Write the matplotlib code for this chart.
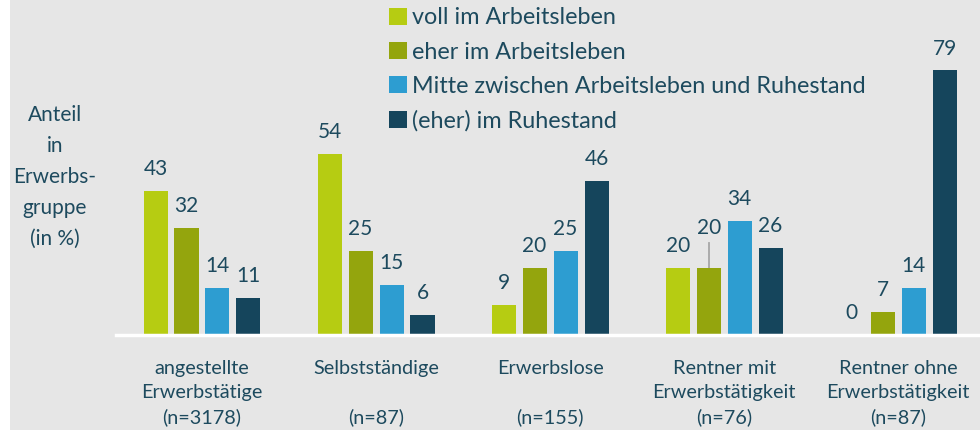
import numpy as np
import matplotlib.pyplot as plt
from matplotlib.patches import Patch

# data
groups = ['angestellte\nErwerbstätige\n(n=3178)', 'Selbstständige\n\n(n=87)',
          'Erwerbslose\n\n(n=155)', 'Rentner mit\nErwerbstätigkeit\n(n=76)',
          'Rentner ohne\nErwerbstätigkeit\n(n=87)']
series = ['voll im Arbeitsleben', 'eher im Arbeitsleben',
          'Mitte zwischen Arbeitsleben und Ruhestand', '(eher) im Ruhestand']
voll = [43, 54, 9, 20, 0]
eher = [32, 25, 20, 20, 7]
mitte = [14, 15, 25, 34, 14]
ruhe = [11, 6, 46, 26, 79]
colors = ['#b6cc12', '#94a50d', '#2d9dd1', '#15455c']
txt = '#1d4a5e'
bg = '#e6e6e6'

plt.rcParams['font.family'] = ['Lato', 'DejaVu Sans']

fig = plt.figure(figsize=(9.8, 4.3), dpi=100)
fig.patch.set_facecolor('white')
# grey panel, leaving thin white strip at left
fig.patches.append(plt.Rectangle((10/980, 0), 1, 1, transform=fig.transFigure,
                                 facecolor=bg, edgecolor='none', zorder=-10))

ax = fig.add_axes([116/980, 95/430, 864/980, 335/430])
ax.set_facecolor('none')

x = np.arange(len(groups))
width = 0.138
step = 0.178
vals = [voll, eher, mitte, ruhe]
for i, v in enumerate(vals):
    pos = x + (i - 1.5) * step
    ax.bar(pos, v, width, color=colors[i], label=series[i], zorder=2)
    for j, (p, h) in enumerate(zip(pos, v)):
        if i == 1 and j == 3:
            # label lifted with a leader line
            ax.plot([p, p], [h, h + 7.5], color='#a6a6a6', lw=1.3, zorder=1)
            ax.text(p, h + 12, str(h), ha='center', va='center', fontsize=15, color=txt)
        else:
            ax.text(p, h + 6.5, str(h), ha='center', va='center', fontsize=15, color=txt)

ax.set_xlim(-0.494, 4.47)
ax.set_ylim(0, 100)
ax.axhline(0, color='white', lw=2.5, zorder=3, clip_on=False)
for s in ax.spines.values():
    s.set_visible(False)
ax.set_yticks([])
ax.set_xticks(x)
ax.set_xticklabels(groups, fontsize=14.3, color=txt, linespacing=1.5)
ax.tick_params(axis='x', length=0, pad=18)

fig.text(55/980, 1 - 177/430, 'Anteil\nin\nErwerbs-\ngruppe\n(in %)', ha='center', va='center',
         fontsize=15, color=txt, linespacing=1.68)

handles = [Patch(facecolor=c, edgecolor='none') for c in colors]
leg = fig.legend(handles, series, loc='upper left', bbox_to_anchor=(380/980, 1 + 2/430),
                 frameon=False, fontsize=16.8, handlelength=0.75, handleheight=0.75,
                 handletextpad=0.2, labelspacing=0.57, borderaxespad=0)
for t in leg.get_texts():
    t.set_color(txt)

fig.savefig('out.png', dpi=100, facecolor=fig.get_facecolor())
